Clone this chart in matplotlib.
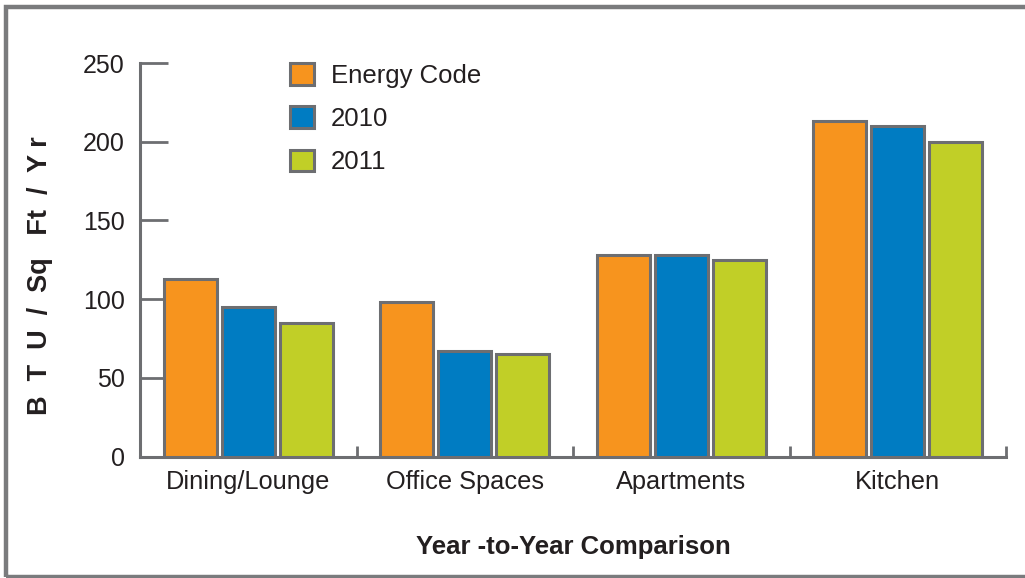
import matplotlib
matplotlib.use("Agg")
import matplotlib.pyplot as plt
from matplotlib.patches import Rectangle
import numpy as np

categories = ["Dining/Lounge", "Office Spaces", "Apartments", "Kitchen"]
series_names = ["Energy Code", "2010", "2011"]
energy_code = [113, 98, 128, 213]
year_2010 = [95, 67, 128, 210]
year_2011 = [85, 65, 125, 200]
y_ticks = [0, 50, 100, 150, 200, 250]

colors = ["#F7941E", "#007CC2", "#C1CF27"]
edge = "#6D6E71"
text_color = "#231F20"

plt.rcParams["font.family"] = ["Liberation Sans", "DejaVu Sans"]

fig = plt.figure(figsize=(10.25, 5.78), dpi=100)
ax = fig.add_axes([0.1366, 0.2102, 0.8449, 0.6808])

x = np.arange(len(categories))
width = 0.245
step = 0.268
handles = []
for i, (vals, name, col) in enumerate(zip([energy_code, year_2010, year_2011], series_names, colors)):
    b = ax.bar(x + (i - 1) * step, vals, width, color=col, edgecolor=edge,
               linewidth=2.2, label=name, zorder=3)
    handles.append(b)

ax.set_xlim(-0.5, len(categories) - 0.5)
ax.set_ylim(0, 250)
ax.set_yticks(y_ticks)
ax.set_yticklabels([str(t) for t in y_ticks])

# category boundary ticks on the bottom axis
ax.set_xticks(np.arange(len(categories) + 1) - 0.5, minor=False)
ax.set_xticklabels([""] * (len(categories) + 1))
ax.set_xticks(x, minor=True)
ax.set_xticklabels(categories, minor=True)
ax.tick_params(axis="x", which="major", direction="in", length=8, width=2, color=edge)
ax.tick_params(axis="x", which="minor", length=0, pad=10, labelsize=18.3, labelcolor=text_color)
ax.tick_params(axis="y", direction="in", length=20, width=2, color=edge, pad=11,
               labelsize=18, labelcolor=text_color)

for s in ["top", "right"]:
    ax.spines[s].set_visible(False)
for s in ["left", "bottom"]:
    ax.spines[s].set_color(edge)
    ax.spines[s].set_linewidth(2.2)
    ax.spines[s].set_capstyle("projecting")

ax.set_xlabel("Year -to-Year Comparison", fontsize=18.5, fontweight="bold",
              color=text_color, labelpad=29)
fig.text(40 / 1025, 1 - 276 / 578, "B  T  U  /  Sq   Ft  /  Y r", rotation=90,
         ha="center", va="center", fontsize=19.5, fontweight="bold", color=text_color)

leg = ax.legend(handles=handles, loc="upper left", bbox_to_anchor=(0.173, 1.0),
                frameon=False, fontsize=18.5, handlelength=0.93, handleheight=0.93,
                handletextpad=0.68, labelspacing=0.72, borderpad=0, borderaxespad=0)
for t in leg.get_texts():
    t.set_color(text_color)

# grey frame around the whole figure
fig.patches.append(Rectangle((6 / 1025, 1.5 / 578), 1.1, 1 - 8 / 578,
                             transform=fig.transFigure, fill=False,
                             edgecolor="#7A7B7D", linewidth=3.2))

fig.savefig("out.png", dpi=100)
